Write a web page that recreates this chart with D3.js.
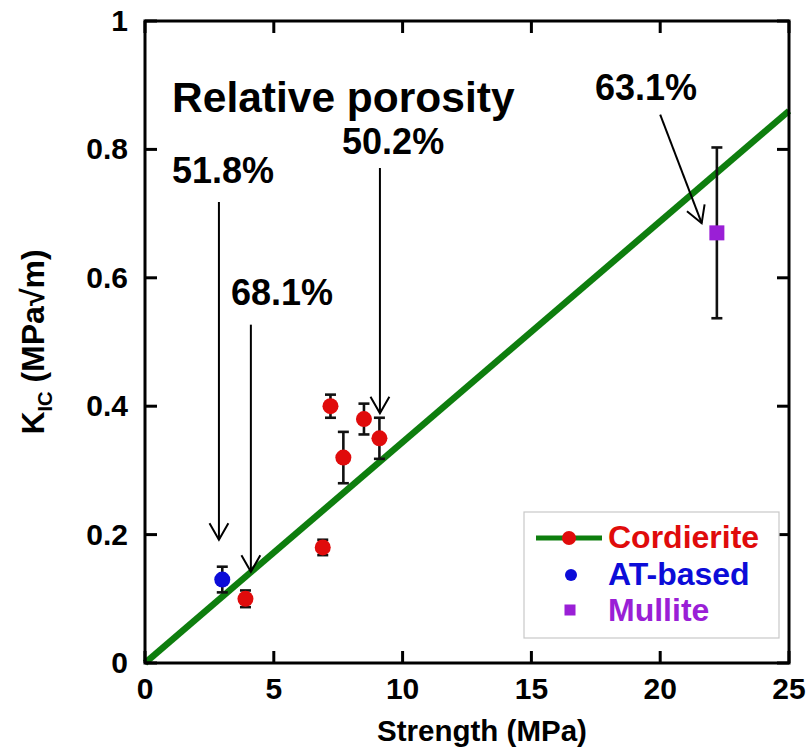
<!DOCTYPE html>
<html>
<head>
<meta charset="utf-8">
<script src="https://cdn.jsdelivr.net/npm/d3@7"></script>
<style>
  html, body { margin: 0; padding: 0; background: #fff; }
  svg text { font-family: "Liberation Sans", Arial, sans-serif; font-weight: bold; }
</style>
</head>
<body>
<svg id="chart" width="806" height="752"></svg>
<script>
// 数据：强度 (MPa) vs K_IC (MPa√m)
const CORD_X = [3.9, 6.9, 7.2, 7.7, 8.5, 9.1];
const CORD_Y = [0.10, 0.18, 0.40, 0.32, 0.38, 0.35];
const CORD_ERR = [0.013, 0.012, 0.018, 0.040, 0.024, 0.032];
const AT_X = [3.0];
const AT_Y = [0.13];
const AT_ERR = [0.02];
const MUL_X = [22.2];
const MUL_Y = [0.67];
const MUL_ERR = [0.133];
const FIT_X = [0, 25];
const FIT_Y = [0, 0.86];
const X_TICKS = [0, 5, 10, 15, 20, 25];
const Y_TICKS = [0, 0.2, 0.4, 0.6, 0.8, 1];
const Y_TICK_LABELS = ["0", "0.2", "0.4", "0.6", "0.8", "1"];
const LEGEND = ["Cordierite", "AT-based", "Mullite"];

// 孔隙率标注 (数据坐标)
const NOTES = [
  { text: "51.8%", x: 1.05, y: 0.748, from: [2.87, 0.718], to: [2.87, 0.192] },
  { text: "68.1%", x: 3.34, y: 0.558, from: [4.11, 0.527], to: [4.11, 0.142] },
  { text: "50.2%", x: 7.65, y: 0.793, from: [9.12, 0.771], to: [9.12, 0.389] },
  { text: "63.1%", x: 17.47, y: 0.877, from: [20.0, 0.854], to: [21.61, 0.685] },
];

const svg = d3.select("#chart");
const L = 145, R = 789, T = 21, B = 663;
const x = d3.scaleLinear().domain([0, 25]).range([L, R]);
const y = d3.scaleLinear().domain([0, 1]).range([B, T]);

const RED = "#e00b0b", BLUE = "#0c0cd8", PURPLE = "#9a1fd6", GREEN = "#0e7e0e";

// 拟合线
svg.append("line")
  .attr("x1", x(FIT_X[0])).attr("y1", y(FIT_Y[0]))
  .attr("x2", x(FIT_X[1])).attr("y2", y(FIT_Y[1]))
  .attr("stroke", GREEN).attr("stroke-width", 6.5);

// 误差棒
function errBars(xs, ys, es) {
  const g = svg.append("g").attr("stroke", "#111").attr("stroke-width", 2.6);
  xs.forEach((v, i) => {
    const cx = x(v), y0 = y(ys[i] - es[i]), y1 = y(ys[i] + es[i]);
    g.append("line").attr("x1", cx).attr("x2", cx).attr("y1", y0).attr("y2", y1);
    g.append("line").attr("x1", cx - 5.5).attr("x2", cx + 5.5).attr("y1", y0).attr("y2", y0);
    g.append("line").attr("x1", cx - 5.5).attr("x2", cx + 5.5).attr("y1", y1).attr("y2", y1);
  });
}
errBars(CORD_X, CORD_Y, CORD_ERR);
errBars(AT_X, AT_Y, AT_ERR);
errBars(MUL_X, MUL_Y, MUL_ERR);

svg.append("g").selectAll("circle").data(CORD_X).join("circle")
  .attr("cx", (d) => x(d)).attr("cy", (d, i) => y(CORD_Y[i])).attr("r", 8).attr("fill", RED);
svg.append("g").selectAll("circle").data(AT_X).join("circle")
  .attr("cx", (d) => x(d)).attr("cy", (d, i) => y(AT_Y[i])).attr("r", 8).attr("fill", BLUE);
svg.append("g").selectAll("rect").data(MUL_X).join("rect")
  .attr("x", (d) => x(d) - 7.5).attr("y", (d, i) => y(MUL_Y[i]) - 7.5)
  .attr("width", 15).attr("height", 15).attr("fill", PURPLE);

// 坐标框 + 内向刻度（四边）
const TK = 12;
const axes = svg.append("g").attr("stroke", "#000").attr("stroke-width", 3);
axes.append("rect").attr("x", L).attr("y", T).attr("width", R - L).attr("height", B - T).attr("fill", "none");
X_TICKS.forEach((t) => {
  axes.append("line").attr("x1", x(t)).attr("x2", x(t)).attr("y1", B).attr("y2", B - TK);
  axes.append("line").attr("x1", x(t)).attr("x2", x(t)).attr("y1", T).attr("y2", T + TK);
});
Y_TICKS.forEach((t) => {
  axes.append("line").attr("x1", L).attr("x2", L + TK).attr("y1", y(t)).attr("y2", y(t));
  axes.append("line").attr("x1", R).attr("x2", R - TK).attr("y1", y(t)).attr("y2", y(t));
});

svg.append("g").selectAll("text").data(X_TICKS).join("text")
  .attr("x", (d) => x(d)).attr("y", B + 36).attr("text-anchor", "middle")
  .attr("font-size", 30).text((d) => d);
svg.append("g").selectAll("text").data(Y_TICKS).join("text")
  .attr("x", L - 17).attr("y", (d) => y(d) + 10).attr("text-anchor", "end")
  .attr("font-size", 30).text((d, i) => Y_TICK_LABELS[i]);

// 轴标题
svg.append("text").attr("x", 482).attr("y", 741).attr("text-anchor", "middle")
  .attr("font-size", 29.5).text("Strength (MPa)");
const yl = svg.append("text").attr("transform", "translate(44,342) rotate(-90)")
  .attr("text-anchor", "middle").attr("font-size", 32);
yl.append("tspan").text("K");
yl.append("tspan").attr("font-size", 20).attr("dy", 8).text("IC");
yl.append("tspan").attr("dy", -8).text(" (MPa\u221Am)");

// 标注
svg.append("text").attr("x", x(1.05)).attr("y", y(0.858)).attr("font-size", 42.5).text("Relative porosity");
const ng = svg.append("g");
NOTES.forEach((n) => {
  ng.append("text").attr("x", x(n.x)).attr("y", y(n.y)).attr("font-size", 36).text(n.text);
  const x1 = x(n.from[0]), y1 = y(n.from[1]), x2 = x(n.to[0]), y2 = y(n.to[1]);
  ng.append("line").attr("x1", x1).attr("y1", y1).attr("x2", x2).attr("y2", y2)
    .attr("stroke", "#000").attr("stroke-width", 2);
  const a = Math.atan2(y2 - y1, x2 - x1), h = 19, w = 0.52;
  const p1 = [x2 - h * Math.cos(a - w), y2 - h * Math.sin(a - w)];
  const p2 = [x2 - h * Math.cos(a + w), y2 - h * Math.sin(a + w)];
  ng.append("path").attr("d", `M${p1}L${x2},${y2}L${p2}`)
    .attr("fill", "none").attr("stroke", "#000").attr("stroke-width", 2);
});

// 图例
const lg = svg.append("g");
lg.append("rect").attr("x", 524).attr("y", 512).attr("width", 255).attr("height", 126)
  .attr("fill", "#fff").attr("stroke", "#c8c8c8").attr("stroke-width", 1.2);
lg.append("line").attr("x1", 536).attr("x2", 602).attr("y1", 538).attr("y2", 538)
  .attr("stroke", GREEN).attr("stroke-width", 5);
lg.append("circle").attr("cx", 569).attr("cy", 538).attr("r", 7).attr("fill", RED);
lg.append("circle").attr("cx", 571).attr("cy", 575).attr("r", 6).attr("fill", BLUE);
lg.append("rect").attr("x", 564.5).attr("y", 604.5).attr("width", 11).attr("height", 11).attr("fill", PURPLE);
const lcol = [RED, BLUE, PURPLE];
lg.selectAll("text.lt").data(LEGEND).join("text").attr("class", "lt")
  .attr("x", 608).attr("y", (d, i) => 548 + i * 36.5).attr("font-size", 32)
  .attr("fill", (d, i) => lcol[i]).text((d) => d);
</script>
</body>
</html>
